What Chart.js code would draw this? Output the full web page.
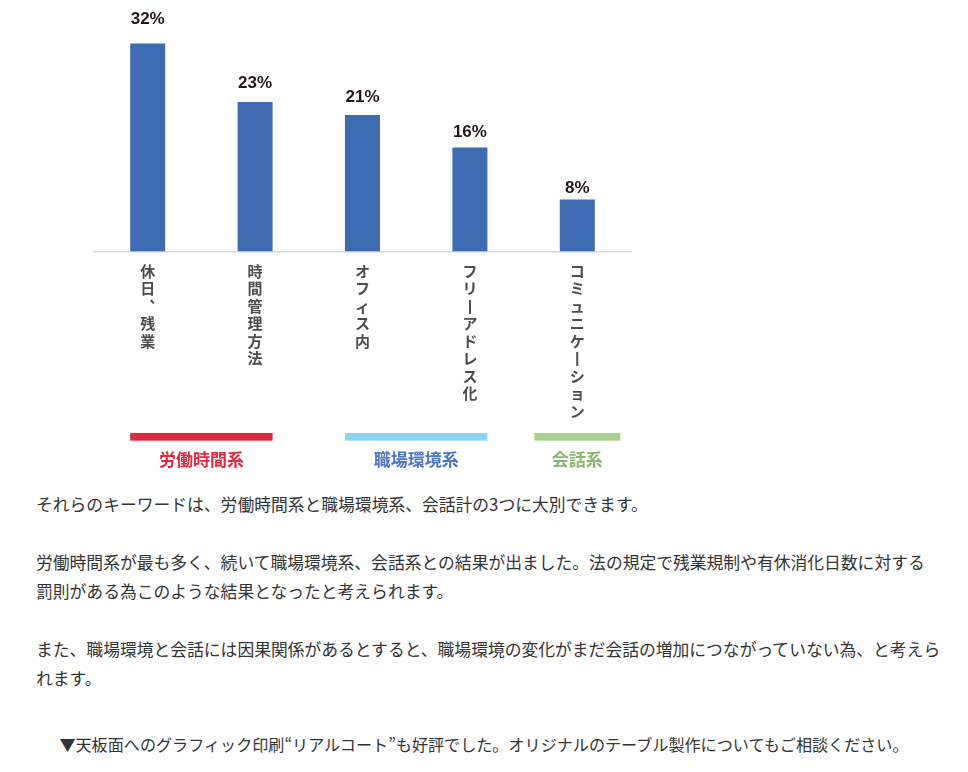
<!DOCTYPE html>
<html lang="ja">
<head>
<meta charset="utf-8">
<script src="https://cdn.jsdelivr.net/npm/chart.js@4/dist/chart.umd.min.js"></script>
<style>
  html, body { margin: 0; padding: 0; background: #fff; }
  body { width: 968px; height: 772px; position: relative; overflow: hidden; }
  #wrap { position: absolute; left: 0; top: 0; width: 968px; height: 480px; }
  #copy {
    position: absolute; left: 36px; top: 490px; width: 920px;
    font-family: "Noto Sans CJK JP", sans-serif; font-size: 16.8px;
    line-height: 29px; color: #333;
  }
  #copy p { margin: 0 0 29px 0; white-space: nowrap; }
  #copy p.note { position: absolute; left: -36px; width: 968px; top: 240px; margin: 0; text-align: center; font-size: 16.1px; }
</style>
</head>
<body>
<div id="wrap"><canvas id="keywordChart"></canvas></div>
<div id="copy">
  <p>それらのキーワードは、労働時間系と職場環境系、会話計の3つに大別できます。</p>
  <p>労働時間系が最も多く、続いて職場環境系、会話系との結果が出ました。法の規定で残業規制や有休消化日数に対する<br>罰則がある為このような結果となったと考えられます。</p>
  <p>また、職場環境と会話には因果関係があるとすると、職場環境の変化がまだ会話の増加につながっていない為、と考えら<br>れます。</p>
  <p class="note">▼天板面へのグラフィック印刷“リアルコート”も好評でした。オリジナルのテーブル製作についてもご相談ください。</p>
</div>
<script>
// keyword shares (%)
const categories = ['休日、残業', '時間管理方法', 'オフィス内', 'フリーアドレス化', 'コミュニケーション'];
const shares = [32, 23, 21, 16, 8];

// keyword groups, as index ranges into categories
const groupNames = ['労働時間系', '職場環境系', '会話系'];
const groupFirst = [0, 2, 4];
const groupLast = [1, 3, 4];
const groupColors = ['#e0283f', '#87d6f6', '#a9d08c'];
const groupTextColors = ['#e0283f', '#4a74c6', '#8cb56f'];

// vertical writing: long-vowel mark becomes a vertical stroke,
// the comma moves to its vertical presentation form
const verticalForms = { '\u30FC': '\u4E28', '\u3001': '\uFE11' };
function toVertical(label) {
    return Array.from(label).map(c => verticalForms[c] || c);
}

const valueLabels = {
    id: 'valueLabels',
    afterDatasetsDraw(chart) {
        const ctx = chart.ctx;
        const y = chart.scales.y;
        const meta = chart.getDatasetMeta(0);
        ctx.save();
        ctx.font = 'bold 17px "Liberation Sans", Arial, sans-serif';
        ctx.fillStyle = '#231815';
        ctx.textAlign = 'center';
        ctx.textBaseline = 'bottom';
        meta.data.forEach((bar, i) => {
            // labels in the original climb a little faster than the bars
            const top = y.getPixelForValue(shares[i] * 1.083) + 2;
            ctx.fillText(shares[i] + '%', bar.x, top);
        });
        ctx.restore();
    }
};

const groupBands = {
    id: 'groupBands',
    afterDraw(chart) {
        const ctx = chart.ctx;
        const x = chart.scales.x;
        const meta = chart.getDatasetMeta(0);
        const bandTop = chart.chartArea.bottom + 181.5;
        ctx.save();
        groupNames.forEach((name, g) => {
            const a = meta.data[groupFirst[g]];
            const b = meta.data[groupLast[g]];
            let left, right;
            if (groupFirst[g] === groupLast[g]) {
                const half = (x.getPixelForTick(1) - x.getPixelForTick(0)) * 0.4;
                left = a.x - half;
                right = a.x + half;
            } else {
                left = a.x - a.width / 2;
                right = b.x + b.width / 2;
            }
            ctx.fillStyle = groupColors[g];
            ctx.fillRect(left, bandTop, right - left, 7.7);
            ctx.font = 'bold 17px "Noto Sans CJK JP", sans-serif';
            ctx.fillStyle = groupTextColors[g];
            ctx.textAlign = 'center';
            ctx.textBaseline = 'middle';
            ctx.fillText(name, (left + right) / 2, bandTop + 27);
        });
        ctx.restore();
    }
};

const ctx = document.getElementById('keywordChart').getContext('2d');

new Chart(ctx, {
    type: 'bar',
    data: {
        labels: categories.map(toVertical),
        datasets: [{
            data: shares,
            backgroundColor: '#3d6cb3',
            borderWidth: 0,
            barPercentage: 0.326,
            categoryPercentage: 1
        }]
    },
    options: {
        responsive: true,
        maintainAspectRatio: false,
        animation: false,
        layout: {
            padding: { left: 94, right: 337, top: 24, bottom: 49 }
        },
        plugins: {
            legend: { display: false },
            tooltip: { enabled: false }
        },
        scales: {
            y: {
                display: false,
                min: 0,
                max: 35
            },
            x: {
                grid: { display: false, drawTicks: false },
                border: { display: true, color: '#d9d9d9', width: 1.5 },
                ticks: {
                    color: '#4d4d4d',
                    padding: 11,
                    maxRotation: 0,
                    autoSkip: false,
                    font: { family: '"Noto Sans CJK JP", sans-serif', size: 15, weight: 'bold', lineHeight: 1.167 }
                }
            }
        }
    },
    plugins: [valueLabels, groupBands]
});
</script>
</body>
</html>
